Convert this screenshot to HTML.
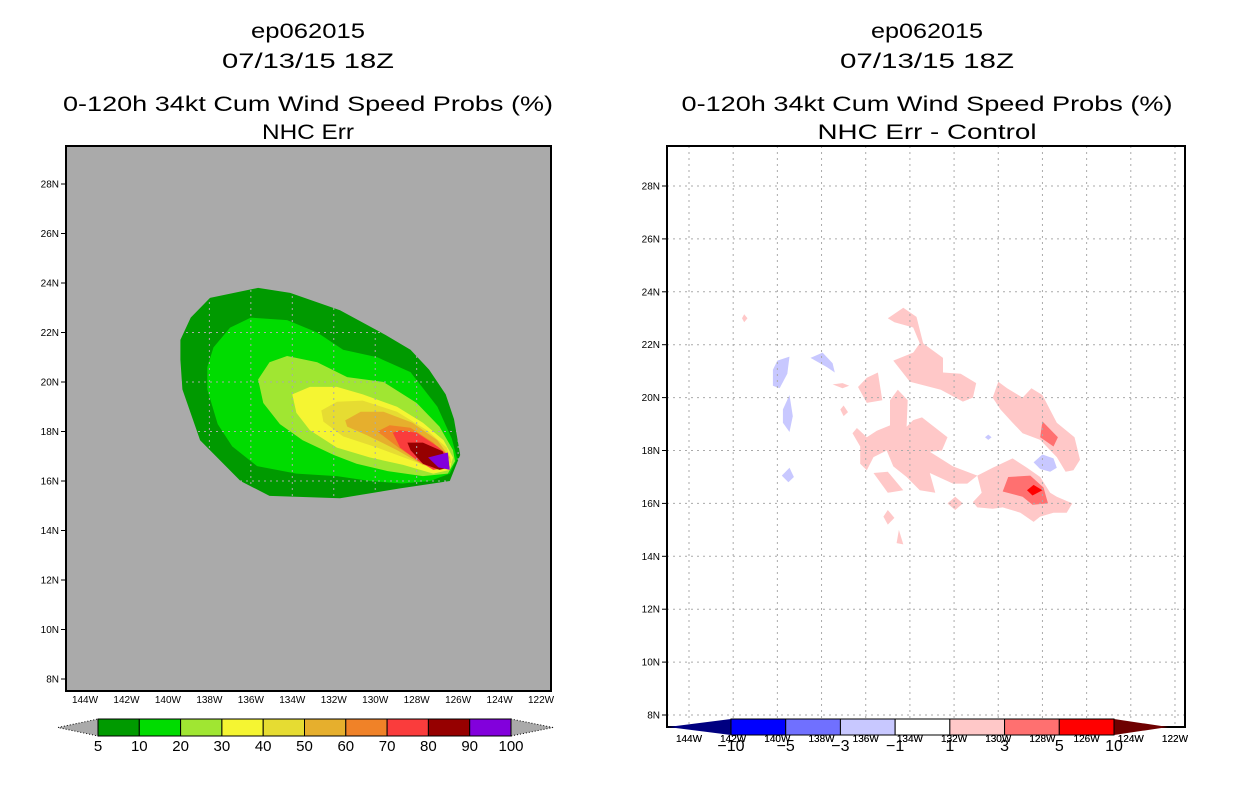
<!DOCTYPE html>
<html><head><meta charset="utf-8"><style>
html,body{margin:0;padding:0;background:#fff;}
svg{display:block;font-family:"Liberation Sans",sans-serif;}
</style></head><body>
<svg id="fig" width="1236" height="800" viewBox="0 0 1236 800">
<g font-size="21" text-anchor="middle" fill="#000">
<text x="308" y="38" textLength="114" lengthAdjust="spacingAndGlyphs">ep062015</text>
<text x="308" y="68" textLength="172" lengthAdjust="spacingAndGlyphs">07/13/15 18Z</text>
<text x="308" y="111" textLength="490" lengthAdjust="spacingAndGlyphs">0-120h 34kt Cum Wind Speed Probs (%)</text>
<text x="308" y="139" textLength="92" lengthAdjust="spacingAndGlyphs">NHC Err</text>
</g>
<g font-size="21" text-anchor="middle" fill="#000">
<text x="927" y="38" textLength="112" lengthAdjust="spacingAndGlyphs">ep062015</text>
<text x="927" y="68" textLength="174" lengthAdjust="spacingAndGlyphs">07/13/15 18Z</text>
<text x="927" y="111" textLength="491" lengthAdjust="spacingAndGlyphs">0-120h 34kt Cum Wind Speed Probs (%)</text>
<text x="927" y="139" textLength="219" lengthAdjust="spacingAndGlyphs">NHC Err - Control</text>
</g>
<g id="left"></g>
<g id="right"></g>
</svg>
<script>
// ---- data ----
const lonTicks = [144,142,140,138,136,134,132,130,128,126,124,122];
const latTicks = [28,26,24,22,20,18,16,14,12,10,8];
const probLevels = [5,10,20,30,40,50,60,70,80,90,100];
const probColors = ["#009a00","#00dc00","#a0e632","#f5f532","#e6dc32","#e6af2d","#f08228","#fa3c3c","#960000","#8200dc"];
const diffLevels = [-10,-5,-3,-1,1,3,5,10];
const diffColors = ["#0000ff","#7070ff","#c8c8ff","#ffffff","#ffc8c8","#ff7070","#ff0000"];
const prob5 = [[139.4,21.7],[138.9,22.6],[137.97,23.4],[135.65,23.8],[134.1,23.6],[131.7,22.9],[129.5,21.9],[128.3,21.3],[127.4,20.5],[126.6,19.5],[126.2,18.5],[125.9,17.05],[126.4,16.0],[128.8,15.7],[131.7,15.3],[135.1,15.4],[136.5,16.0],[138.45,17.65],[139.3,19.7],[139.4,20.9]];
const prob10 = [[137.8,21.4],[137.0,22.2],[136.0,22.6],[134.25,22.5],[132.8,22.0],[131.55,21.3],[129.9,21.0],[128.3,20.4],[127.0,19.0],[126.3,17.7],[126.05,16.9],[126.4,16.3],[127.35,16.0],[128.7,15.9],[130.25,16.0],[131.85,16.2],[133.8,16.3],[135.7,16.6],[136.9,17.4],[137.6,18.3],[138.1,19.7],[138.1,20.6]];
const prob20 = [[135.65,20.1],[135.1,20.8],[134.25,21.05],[132.8,20.8],[131.35,20.2],[129.6,20.0],[128.0,19.15],[126.9,18.2],[126.25,17.25],[126.15,16.8],[126.5,16.3],[127.7,16.2],[129.4,16.4],[130.9,16.7],[132.0,17.05],[133.5,17.65],[134.6,18.3],[135.4,19.15]];
const prob30 = [[134.0,19.5],[133.15,19.8],[131.85,19.8],[130.6,19.5],[128.95,19.0],[127.7,18.35],[126.7,17.65],[126.25,16.95],[126.4,16.45],[127.2,16.3],[128.65,16.65],[130.25,16.95],[131.85,17.35],[133.15,18.05],[133.8,18.75]];
const prob40 = [[132.6,18.85],[131.85,19.2],[130.6,19.25],[128.95,18.8],[127.5,18.05],[126.55,17.35],[126.3,16.75],[127.0,16.45],[128.3,16.85],[129.9,17.35],[131.55,17.8],[132.5,18.4]];
const prob50 = [[131.45,18.45],[130.7,18.8],[129.6,18.8],[128.2,18.35],[127.0,17.65],[126.4,16.95],[126.75,16.5],[127.7,16.65],[128.95,17.25],[130.4,17.85],[131.35,18.2]];
const prob60 = [[129.9,18.0],[129.3,18.25],[128.3,18.15],[127.2,17.55],[126.5,16.95],[126.75,16.5],[127.7,16.7],[128.8,17.3]];
const prob70 = [[129.15,17.95],[128.8,18.05],[128.0,17.95],[127.0,17.4],[126.5,17.05],[126.5,16.55],[127.2,16.45],[128.0,16.85],[128.8,17.35]];
const prob80 = [[128.45,17.55],[127.7,17.55],[126.75,17.2],[126.4,16.55],[126.9,16.45],[127.7,16.7],[128.3,17.25]];
const prob90 = [[127.45,16.95],[126.5,17.15],[126.4,16.45],[126.95,16.55]];
const probShapes = [[0,prob5],[1,prob10],[2,prob20],[3,prob30],[4,prob40],[5,prob50],[6,prob60],[7,prob70],[8,prob80],[9,prob90]];
const diffShapes = [
 [4,[[135.0,23.0],[134.3,23.4],[133.7,23.05],[133.4,22.05],[132.5,21.5],[132.5,20.95],[131.7,20.9],[131.0,20.55],[131.15,20.0],[131.6,19.85],[132.6,20.3],[134.0,20.6],[134.75,21.4],[133.85,21.7],[133.55,22.05],[133.85,22.65],[134.7,22.85]]],
 [4,[[136.35,20.4],[135.95,20.75],[135.45,20.95],[135.25,19.9],[135.95,19.8]]],
 [4,[[136.6,18.65],[136.4,18.85],[135.95,18.5],[135.5,18.75],[134.9,18.95],[134.9,19.9],[134.55,20.3],[134.1,19.9],[134.15,18.9],[133.85,19.15],[133.45,19.25],[132.3,18.5],[132.55,18.0],[133.1,17.95],[132.05,17.4],[130.95,17.05],[131.4,16.75],[132.05,16.75],[133.1,17.15],[132.85,16.4],[133.55,16.5],[134.15,17.0],[134.75,17.4],[135.05,18.0],[135.65,17.75],[135.95,17.25],[136.25,17.5],[136.25,18.15]]],
 [4,[[135.65,17.15],[135.0,17.2],[134.3,16.5],[135.0,16.4]]],
 [4,[[130.25,20.0],[130.0,20.6],[129.6,20.35],[128.9,20.0],[128.5,20.35],[128.0,20.1],[127.35,19.05],[126.55,18.5],[126.3,17.65],[126.6,17.25],[126.95,17.2],[127.35,17.75],[128.1,18.4],[128.9,18.65],[129.35,19.05],[129.9,19.55]]],
 [5,[[128.0,19.1],[127.3,18.5],[127.5,18.15],[128.1,18.5]]],
 [4,[[130.95,17.05],[130.25,17.35],[129.35,17.7],[128.7,17.35],[128.1,17.0],[127.65,16.4],[127.35,16.25],[126.65,16.0],[126.9,15.65],[127.5,15.65],[128.1,15.5],[128.4,15.3],[129.0,15.65],[129.8,15.85],[130.25,15.8],[130.95,15.85],[131.15,16.05],[130.75,16.4]]],
 [5,[[129.8,16.45],[129.55,17.0],[128.55,17.05],[127.95,16.6],[127.75,16.0],[128.45,15.95],[128.9,16.25]]],
 [6,[[128.7,16.5],[128.4,16.7],[128.0,16.5],[128.45,16.3]]],
 [4,[[137.5,20.5],[137.05,20.55],[136.75,20.45],[137.05,20.35]]],
 [4,[[137.15,19.55],[137.0,19.7],[136.8,19.45],[137.0,19.3]]],
 [4,[[132.3,16.0],[131.95,16.25],[131.6,16.0],[131.95,15.75]]],
 [4,[[135.2,15.5],[135.0,15.75],[134.7,15.45],[135.0,15.2]]],
 [4,[[134.6,14.5],[134.5,15.0],[134.3,14.45]]],
 [4,[[141.6,23.0],[141.5,23.15],[141.35,23.0],[141.5,22.85]]],
 [2,[[140.2,21.05],[140.0,21.4],[139.45,21.55],[139.55,20.9],[139.9,20.35],[140.2,20.45]]],
 [2,[[138.5,21.5],[137.95,21.7],[137.5,21.3],[137.4,20.95],[137.75,21.15]]],
 [2,[[139.75,19.55],[139.45,20.1],[139.3,19.3],[139.45,18.7],[139.75,19.05]]],
 [2,[[139.8,17.05],[139.45,17.35],[139.25,17.0],[139.5,16.8]]],
 [2,[[128.4,17.55],[128.0,17.85],[127.5,17.7],[127.35,17.35],[127.65,17.2],[128.1,17.3]]],
 [2,[[130.6,18.5],[130.45,18.6],[130.3,18.5],[130.45,18.4]]]
];

const NS="http://www.w3.org/2000/svg";
function mk(parent,tag,attrs){const e=document.createElementNS(NS,tag);for(const k in attrs)e.setAttribute(k,attrs[k]);parent.appendChild(e);return e;}

function drawMap(g,cfg){
  const xs=w=>cfg.x0+(144-w)*cfg.dx;
  const ys=n=>cfg.y0-(n-8)*cfg.dy;
  const bg=mk(g,'rect',{x:cfg.L,y:cfg.T,width:cfg.R-cfg.L,height:cfg.B-cfg.T,fill:cfg.bg});
  
  
  cfg.shapes.forEach(s=>{
    const p=mk(g,'polygon',{points:s[1].map(q=>xs(q[0]).toFixed(1)+','+ys(q[1]).toFixed(1)).join(' '),fill:cfg.colors[s[0]]});
    
    
  });
  lonTicks.forEach(w=>{
    const x=xs(w);
    const l=mk(g,'line',{x1:x,x2:x,y1:cfg.T,y2:cfg.B,stroke:cfg.grid,'stroke-width':1,'stroke-dasharray':'2,4'});
    
    
    const t=mk(g,'text',{x:x,y:cfg.B+cfg.lonLabDy,'font-size':10,'text-anchor':'middle'});
    t.textContent=w+'W';
    
    
  });
  latTicks.forEach(n=>{
    const y=ys(n);
    const l=mk(g,'line',{x1:cfg.L,x2:cfg.R,y1:y,y2:y,stroke:cfg.grid,'stroke-width':1,'stroke-dasharray':'2,4'});
    
    
    mk(g,'line',{x1:cfg.L-5,x2:cfg.L,y1:y,y2:y,stroke:'#000','stroke-width':1});
    const t=mk(g,'text',{x:cfg.L-7,y:y+3.5,'font-size':10,'text-anchor':'end'});
    t.textContent=n+'N';
    
    
  });
  const fr=mk(g,'rect',{x:cfg.L,y:cfg.T,width:cfg.R-cfg.L,height:cfg.B-cfg.T,fill:'none',stroke:'#000','stroke-width':2});
  
  
}
function drawBar(g,cfg){
  const n=cfg.colors.length, w=(cfg.x1-cfg.x0)/n, y0=cfg.y, h=cfg.h;
  const lt=mk(g,'polygon',{points:`${cfg.tl},${y0+h/2} ${cfg.x0},${y0} ${cfg.x0},${y0+h}`,fill:cfg.endL,stroke:cfg.endStroke,'stroke-width':1,'stroke-dasharray':cfg.dash});
  
  
  const rt=mk(g,'polygon',{points:`${cfg.tr},${y0+h/2} ${cfg.x1},${y0} ${cfg.x1},${y0+h}`,fill:cfg.endR,stroke:cfg.endStroke,'stroke-width':1,'stroke-dasharray':cfg.dash});
  
  
  cfg.colors.forEach((c,i)=>{
    const r=mk(g,'rect',{x:cfg.x0+i*w,y:y0,width:w,height:h,fill:c,stroke:'#000','stroke-width':1});
    
    
  });
  cfg.levels.forEach((v,i)=>{
    const t=mk(g,'text',{x:cfg.x0+i*w,y:y0+h+cfg.labDy,'font-size':cfg.fs,'text-anchor':'middle'});
    t.textContent=v<0?'\u2212'+(-v):String(v);
    
    
  });
}
const left=document.getElementById('left');
drawMap(left,{L:66,T:146,R:551,B:691,x0:85,dx:20.73,y0:679,dy:24.75,bg:'#aaaaaa',grid:'#aaaaaa',shapes:probShapes,colors:probColors,lonLabDy:12});
const lb=mk(left,'g',{});


drawBar(lb,{x0:98,x1:511,y:719,h:17,tl:58,tr:553,colors:probColors,levels:probLevels,endL:'#aaaaaa',endR:'#aaaaaa',endStroke:'#000',dash:'1,2',labDy:15,fs:15});

const right=document.getElementById('right');
drawMap(right,{L:667,T:146,R:1185,B:727,x0:689,dx:22.09,y0:715,dy:26.45,bg:'#ffffff',grid:'#aaaaaa',shapes:diffShapes,colors:diffColors,lonLabDy:15});
const rb=mk(right,'g',{});


drawBar(rb,{x0:731,x1:1114,y:719,h:16,tl:668,tr:1168,colors:diffColors,levels:diffLevels,endL:'#000080',endR:'#6e0000',endStroke:'none',dash:'none',labDy:16,fs:16});
lonTicks.forEach(w=>{
  const t=mk(right,'text',{x:689+(144-w)*22.09,y:742,'font-size':10,'text-anchor':'middle'});
  t.textContent=w+'W';
  
  
});
</script>
</body></html>
